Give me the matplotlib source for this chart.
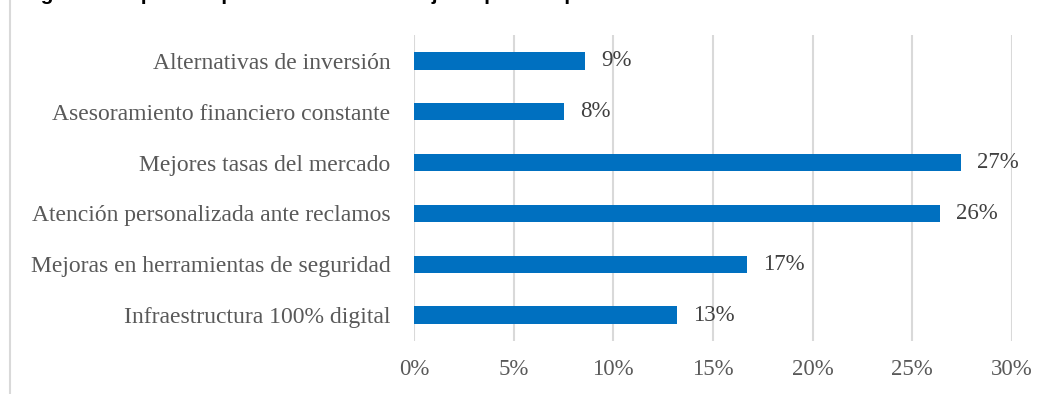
import matplotlib
matplotlib.use("Agg")
import matplotlib.pyplot as plt
from matplotlib.patches import Rectangle

# categories listed bottom to top, as drawn on the y axis
aspectos = [
    "Infraestructura 100% digital",
    "Mejoras en herramientas de seguridad",
    "Atención personalizada ante reclamos",
    "Mejores tasas del mercado",
    "Asesoramiento financiero constante",
    "Alternativas de inversión",
]
porcentajes = [13.2, 16.7, 26.4, 27.45, 7.55, 8.6]
xticks = [0, 5, 10, 15, 20, 25, 30]

plt.rcParams["font.family"] = ["Liberation Serif", "DejaVu Serif"]
gris = "#595959"

fig = plt.figure(figsize=(10.48, 3.94), dpi=100)
ax = fig.add_axes([414 / 1048, 1 - 340.5 / 394, 598 / 1048, 305 / 394])

# chart frame
fig.patches.append(Rectangle((10 / 1048, -0.2), 1.2, 1.2 + (1 - 5.5 / 394),
                             transform=fig.transFigure, fill=False,
                             edgecolor="#d9d9d9", linewidth=1.5))

# title sits above the visible area
fig.text(22 / 1048, 1.0, "Figura 9. Aspectos que la banca debe mejorar para su público",
         fontsize=15, fontweight="bold", family=["Liberation Sans", "DejaVu Sans"],
         va="baseline", ha="left", color="black")

y = range(len(aspectos))
bars = ax.barh(y, porcentajes, height=0.34, color="#0070c0", zorder=3)
for b, v in zip(bars, porcentajes):
    ax.text(v + 0.8, b.get_y() + b.get_height() / 2, f"{v:.0f}%",
            va="center", ha="left", fontsize=16.5, color="#404040")

ax.set_xlim(0, 30)
ax.set_ylim(-0.5, len(aspectos) - 0.5)
ax.set_xticks(xticks)
ax.set_xticklabels([f"{t}%" for t in xticks])
ax.set_yticks(list(y))
ax.set_yticklabels(aspectos)
ax.tick_params(axis="both", length=0, labelsize=16.5, labelcolor=gris)
ax.tick_params(axis="y", labelsize=17.0, pad=17)
ax.tick_params(axis="x", pad=13)
ax.grid(axis="x", color="#d9d9d9", linewidth=1.5, zorder=0)
for s in ax.spines.values():
    s.set_visible(False)

fig.savefig("out.png", dpi=100)
